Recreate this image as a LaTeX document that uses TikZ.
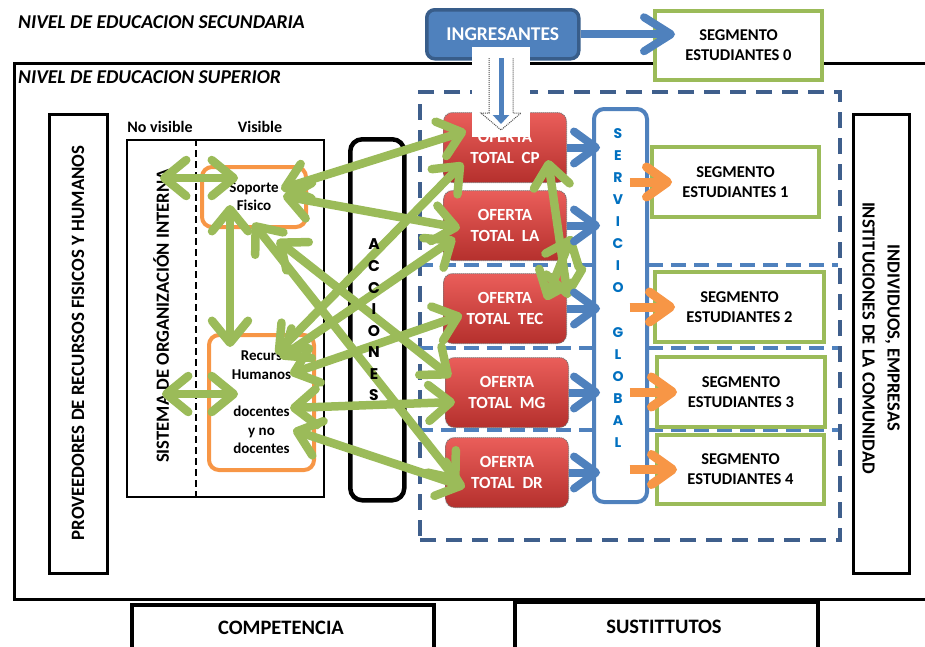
\documentclass[tikz,border=0pt]{standalone}
\usepackage{fontspec}
\setmainfont{Carlito}
\newfontfamily\geo{Poppins}
\usetikzlibrary{arrows.meta,calc}
\definecolor{cgreen}{HTML}{9BBB59}
\definecolor{corange}{HTML}{F79646}
\definecolor{cblue}{HTML}{4F81BD}
\definecolor{cdblue}{HTML}{385D8A}
\definecolor{cdash}{HTML}{3F5F8C}
\definecolor{ctxtblue}{HTML}{0070C0}
\definecolor{redtop}{HTML}{EA5E5A}
\definecolor{redbot}{HTML}{B5302D}
\newcommand\fsz[2]{\fontsize{#1}{#2}\selectfont}
\begin{document}
\begin{tikzpicture}[x=1pt,y=-1pt,
  nw/.style={anchor=north west, inner sep=0pt},
  garrow/.style={draw=cgreen, line width=8.5pt, {Straight Barb[length=22pt,width=36pt,round]}-{Straight Barb[length=22pt,width=36pt,round]}},
  barrow/.style={draw=cblue, line width=8pt, -{Straight Barb[length=22pt,width=32pt,round]}},
  oarrow/.style={draw=corange, line width=9pt, -{Straight Barb[length=21pt,width=30pt,round]}},
  oferta/.style={nw, rounded corners=9pt, top color=redtop, bottom color=redbot, draw=black!55, densely dotted, line width=1pt, minimum width=123pt, minimum height=70pt, text=white, font=\bfseries\fsz{17}{21}, align=center},
  segbox/.style={nw, draw=cgreen, line width=4pt, fill=white, minimum width=167pt, minimum height=70pt, font=\bfseries\fsz{16.5}{20}, align=center},
  orbox/.style={nw, draw=corange, line width=4pt, rounded corners=10pt, font=\bfseries\fsz{15}{18}, align=center},
  sepline/.style={draw=cblue, line width=4pt, dash pattern=on 15pt off 8pt},
  bottombox/.style={nw, draw, line width=4pt, minimum height=60pt}
]
\useasboundingbox (0,0) rectangle (925,646);
\clip (0,0) rectangle (925,646);

% titles and outer frame
\node[anchor=west, inner sep=0pt, font=\bfseries\itshape\fsz{19.6}{22}] (tsec) at (18,22) {NIVEL DE EDUCACION SECUNDARIA};
\node[nw, draw, line width=3pt, minimum width=930pt, minimum height=536pt] (outer) at (13,62) {};
\node[anchor=west, inner sep=0pt, font=\bfseries\itshape\fsz{19.6}{22}] (tsup) at (18,77) {NIVEL DE EDUCACION SUPERIOR};

% providers
\node[nw, draw, line width=2.5pt, minimum width=58pt, minimum height=459pt] (provL) at (48,113) {};
\node[rotate=90, font=\bfseries\fsz{18.8}{20}] (provLt) at (78,343) {PROVEEDORES DE RECURSOS FISICOS Y HUMANOS};
\node[nw, draw, line width=2.5pt, minimum width=56pt, minimum height=459pt] (provR) at (852,113) {};
\node[rotate=-90, align=center, font=\bfseries\fsz{18.5}{25}] (provRt) at (881,338) {INDIVIDUOS, EMPRESAS\\INSTITUCIONES DE LA COMUNIDAD};

% big dashed area and separators
\node[nw, draw=cdash, line width=4pt, dash pattern=on 16pt off 10pt, minimum width=420pt, minimum height=448pt] (bigd) at (418,90) {};
\coordinate (s1a) at (418,265); \coordinate (s1b) at (838,265);
\coordinate (s2a) at (418,348); \coordinate (s2b) at (838,348);
\coordinate (s3a) at (418,430); \coordinate (s3b) at (838,430);
\draw[sepline] (s1a) -- (s1b);
\draw[sepline] (s2a) -- (s2b);
\draw[sepline] (s3a) -- (s3b);

% internal organisation
\node[nw, draw, line width=2pt, minimum width=197pt, minimum height=357pt] (soi) at (126,139) {};
\coordinate (dv1) at (196,139); \coordinate (dv2) at (196,496);
\draw[line width=2pt, dash pattern=on 7pt off 4pt] (dv1) -- (dv2);
\node[font=\bfseries\fsz{16}{18}] (nv) at (160,127) {No visible};
\node[font=\bfseries\fsz{16}{18}] (vis) at (260,127) {Visible};
\node[rotate=90, font=\bfseries\fsz{18.6}{20}] (soit) at (161,316) {SISTEMA DE ORGANIZACIÓN INTERNA};
\node[orbox, minimum width=104pt, minimum height=60pt] (sop) at (200,165) {Soporte\\Fisico};
\node[orbox, minimum width=105pt, minimum height=135pt, font=\bfseries\fsz{15}{18.6}] (rh) at (207,333) {Recurs\\Humanos\\[18.6pt]docentes\\y no\\docentes};

% acciones box
\node[nw, draw, line width=4.5pt, rounded corners=12pt, minimum width=54pt, minimum height=361pt] (accb) at (348,137) {};

% offers
\node[oferta] (cp) at (443,112) {OFERTA\\TOTAL~~CP};
\node[oferta] (la) at (443,190) {OFERTA\\TOTAL~~LA};
\node[oferta] (tec) at (443,273) {OFERTA\\TOTAL~~TEC};
\node[oferta] (mg) at (445,357) {OFERTA\\TOTAL~~MG};
\node[oferta] (dr) at (445,437) {OFERTA\\TOTAL~~DR};

% servicio global
\node[nw, draw=cblue, fill=white, line width=4pt, rounded corners=10pt, minimum width=53pt, minimum height=393pt] (srv) at (592,107) {};

% segment boxes
\node[segbox] (se1) at (650,145) {SEGMENTO\\ESTUDIANTES 1};
\node[segbox, minimum width=169pt] (se2) at (653,270) {SEGMENTO\\ESTUDIANTES 2};
\node[segbox, minimum width=168pt] (se3) at (655,355) {SEGMENTO\\ESTUDIANTES 3};
\node[segbox, minimum height=69pt] (se4) at (655,433) {SEGMENTO\\ESTUDIANTES 4};
\node[segbox, minimum height=69pt] (se0) at (653,9) {SEGMENTO\\ESTUDIANTES 0};

% green arrows
\coordinate (ga1) at (160,178);  \coordinate (gb1) at (238,178);
\coordinate (ga2) at (162,394);  \coordinate (gb2) at (238,394);
\coordinate (ga3) at (230,205);  \coordinate (gb3) at (230,347);
\coordinate (ga4) at (281,189);  \coordinate (gb4) at (466,131);
\coordinate (ga5) at (283,196);  \coordinate (gb5) at (460,228);
\coordinate (ga6) at (253,223);  \coordinate (gb6) at (458,482);
\coordinate (ga7) at (277,240);  \coordinate (gb7) at (451,377);
\coordinate (ga8) at (276,354);  \coordinate (gb8) at (463,163);
\coordinate (ga9) at (280,358);  \coordinate (gb9) at (455,238);
\coordinate (ga10) at (290,374); \coordinate (gb10) at (462,315);
\coordinate (ga11) at (290,408); \coordinate (gb11) at (455,402);
\coordinate (ga12) at (293,430); \coordinate (gb12) at (465,487);
\coordinate (ga13) at (548,160); \coordinate (gb13) at (568,298);
\coordinate (ga14) at (572,236); \coordinate (gb14) at (546,300);
\foreach \i in {1,...,14} \draw[garrow] (ga\i) -- (gb\i);

% letters of acciones
\node[font=\geo\bfseries\fsz{15.5}{21.57}, align=center, inner sep=0pt] (acct) at (374,320) {A\\C\\C\\I\\O\\N\\E\\S};

% blue arrows offers -> servicio
\foreach \n in {cp,la,tec,mg,dr}
  \draw[barrow] (\n.east) -- ($(\n.east -| srv.west)+(8,0)$);
\node[text=ctxtblue, font=\geo\bfseries\fsz{14}{22.07}, align=center, inner sep=0pt] (srvt) at (618,288) {S\\E\\R\\V\\I\\C\\I\\O\\[22.07pt]G\\L\\O\\B\\A\\L};

% orange arrows servicio -> segments
\foreach \n in {se1,se2,se3,se4}
  \draw[oarrow] ($(\n.west -| srv.center)+(9,0)$) -- ($(\n.west)+(22,0)$);

% ingresantes
\node[nw, fill=cblue, draw=cdblue, line width=3.5pt, rounded corners=8pt, minimum width=152pt, minimum height=49pt, text=white, font=\bfseries\fsz{19.5}{20}] (ingr) at (425,8) {INGRESANTES};
\draw[draw=cblue, line width=8pt, -{Straight Barb[length=27pt,width=34pt,round]}] (ingr.east) -- ($(ingr.east -| se0.west)+(22,0)$);
\node[nw, fill=white, minimum width=58pt, minimum height=90pt] (dbox) at (472,47) {};
\coordinate (d1) at (489,58); \coordinate (d2) at (489,113); \coordinate (d3) at (481,113);
\coordinate (d4) at (501,130); \coordinate (d5) at (521,113); \coordinate (d6) at (513,113);
\coordinate (d7) at (513,58);
\draw[densely dotted, black!70, line width=1pt] (d1) -- (d2) -- (d3) -- (d4) -- (d5) -- (d6) -- (d7);
\coordinate (dtop) at (501,58); \coordinate (dtip) at (501,124);
\draw[cblue, line width=5pt, -{Triangle[length=9pt,width=16pt]}] (dtop) -- (dtip);

% bottom boxes
\node[bottombox, minimum width=302pt] (comp) at (130,603) {};
\node[font=\bfseries\fsz{20.5}{22}] (compt) at (281,628) {COMPETENCIA};
\node[bottombox, minimum width=303pt] (sust) at (513,600) {};
\node[font=\bfseries\fsz{20.5}{22}] (sustt) at (664,627) {SUSTITTUTOS};
\end{tikzpicture}
\end{document}
